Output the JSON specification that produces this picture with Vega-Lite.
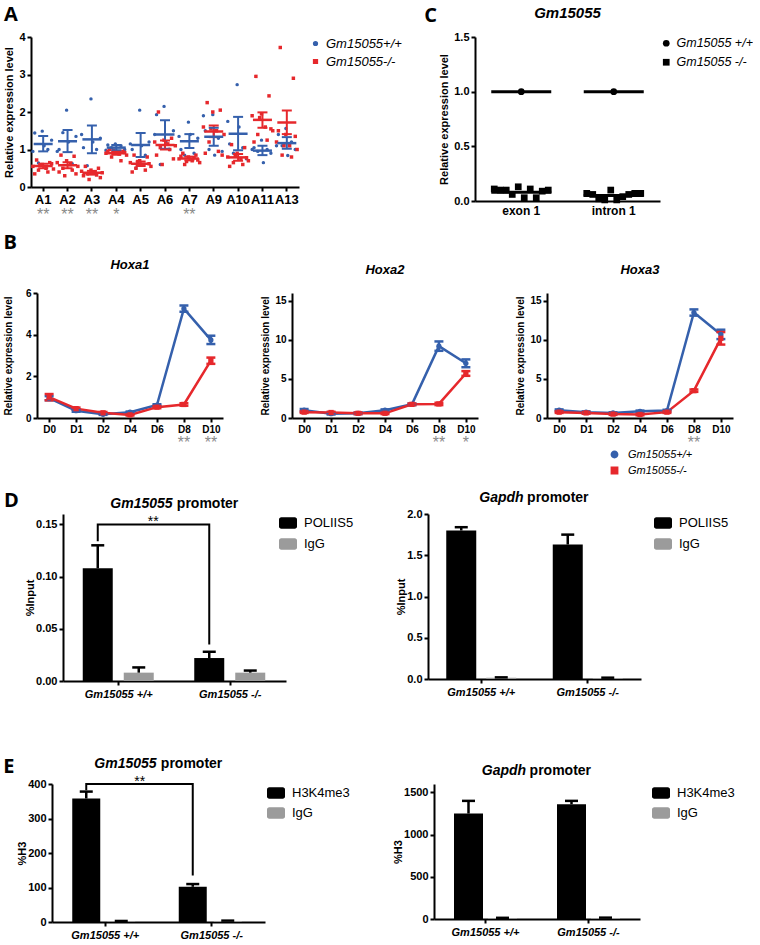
{
"$schema": "https://vega.github.io/schema/vega-lite/v6.json",
"padding": {"left": 2, "top": 5, "right": 0, "bottom": 0},
"background": "white",
"config": {
  "font": "Liberation Sans",
  "view": {"stroke": null},
  "axis": {"domainColor": "black", "domainWidth": 2, "tickColor": "black", "tickWidth": 2, "tickSize": 4, "labelColor": "black", "labelFont": "Liberation Sans", "labelFontWeight": "bold", "labelFontSize": 11, "titleFont": "Liberation Sans", "titleFontWeight": "bold", "titleFontSize": 11, "titleColor": "black", "grid": false, "labelPadding": 2, "titlePadding": 4, "labelOverlap": false},
  "legend": {"labelFont": "Liberation Sans", "labelColor": "black"},
  "title": {"font": "Liberation Sans", "fontWeight": "bold", "color": "black", "subtitleColor": "black"},
  "text": {"font": "Liberation Sans"}
},
"datasets": {
  "aPts": [
    {"gene":"A1","g":"W","v":1.49,"r":6},{"gene":"A1","g":"W","v":1.44,"r":2},{"gene":"A1","g":"W","v":1.0,"r":9},{"gene":"A1","g":"W","v":0.64,"r":4},{"gene":"A1","g":"W","v":1.25,"r":11},{"gene":"A1","g":"W","v":1.1,"r":7},{"gene":"A1","g":"W","v":0.95,"r":1},
    {"gene":"A1","g":"K","v":0.72,"r":3},{"gene":"A1","g":"K","v":0.65,"r":10},{"gene":"A1","g":"K","v":0.6,"r":6},{"gene":"A1","g":"K","v":0.55,"r":1},{"gene":"A1","g":"K","v":0.5,"r":8},{"gene":"A1","g":"K","v":0.48,"r":12},{"gene":"A1","g":"K","v":0.45,"r":4},{"gene":"A1","g":"K","v":0.4,"r":9},{"gene":"A1","g":"K","v":0.35,"r":2},{"gene":"A1","g":"K","v":0.62,"r":11},{"gene":"A1","g":"K","v":0.58,"r":5},
    {"gene":"A2","g":"W","v":2.05,"r":6},{"gene":"A2","g":"W","v":1.0,"r":2},{"gene":"A2","g":"W","v":0.62,"r":9},{"gene":"A2","g":"W","v":1.45,"r":4},{"gene":"A2","g":"W","v":1.35,"r":11},{"gene":"A2","g":"W","v":1.2,"r":7},{"gene":"A2","g":"W","v":0.95,"r":1},
    {"gene":"A2","g":"K","v":0.85,"r":3},{"gene":"A2","g":"K","v":0.82,"r":10},{"gene":"A2","g":"K","v":0.7,"r":6},{"gene":"A2","g":"K","v":0.65,"r":1},{"gene":"A2","g":"K","v":0.6,"r":8},{"gene":"A2","g":"K","v":0.55,"r":12},{"gene":"A2","g":"K","v":0.5,"r":4},{"gene":"A2","g":"K","v":0.45,"r":9},{"gene":"A2","g":"K","v":0.4,"r":2},{"gene":"A2","g":"K","v":0.35,"r":11},{"gene":"A2","g":"K","v":0.3,"r":5},
    {"gene":"A3","g":"W","v":2.35,"r":6},{"gene":"A3","g":"W","v":1.05,"r":2},{"gene":"A3","g":"W","v":1.0,"r":9},{"gene":"A3","g":"W","v":0.57,"r":4},{"gene":"A3","g":"W","v":1.3,"r":11},{"gene":"A3","g":"W","v":1.2,"r":7},{"gene":"A3","g":"W","v":1.4,"r":1},
    {"gene":"A3","g":"K","v":0.55,"r":3},{"gene":"A3","g":"K","v":0.5,"r":10},{"gene":"A3","g":"K","v":0.45,"r":6},{"gene":"A3","g":"K","v":0.42,"r":1},{"gene":"A3","g":"K","v":0.4,"r":8},{"gene":"A3","g":"K","v":0.38,"r":12},{"gene":"A3","g":"K","v":0.35,"r":4},{"gene":"A3","g":"K","v":0.32,"r":9},{"gene":"A3","g":"K","v":0.3,"r":2},{"gene":"A3","g":"K","v":0.25,"r":11},{"gene":"A3","g":"K","v":0.2,"r":5},
    {"gene":"A4","g":"W","v":1.15,"r":6},{"gene":"A4","g":"W","v":1.12,"r":2},{"gene":"A4","g":"W","v":1.1,"r":9},{"gene":"A4","g":"W","v":1.05,"r":4},{"gene":"A4","g":"W","v":1.0,"r":11},{"gene":"A4","g":"W","v":0.95,"r":7},{"gene":"A4","g":"W","v":0.98,"r":1},
    {"gene":"A4","g":"K","v":1.0,"r":3},{"gene":"A4","g":"K","v":0.95,"r":10},{"gene":"A4","g":"K","v":0.92,"r":6},{"gene":"A4","g":"K","v":0.9,"r":1},{"gene":"A4","g":"K","v":0.88,"r":8},{"gene":"A4","g":"K","v":0.85,"r":12},{"gene":"A4","g":"K","v":0.8,"r":4},{"gene":"A4","g":"K","v":0.7,"r":9},{"gene":"A4","g":"K","v":0.95,"r":2},{"gene":"A4","g":"K","v":0.92,"r":11},{"gene":"A4","g":"K","v":0.98,"r":5},
    {"gene":"A5","g":"W","v":2.05,"r":6},{"gene":"A5","g":"W","v":1.0,"r":2},{"gene":"A5","g":"W","v":0.85,"r":9},{"gene":"A5","g":"W","v":0.5,"r":4},{"gene":"A5","g":"W","v":1.2,"r":11},{"gene":"A5","g":"W","v":1.1,"r":7},{"gene":"A5","g":"W","v":1.15,"r":1},
    {"gene":"A5","g":"K","v":0.85,"r":3},{"gene":"A5","g":"K","v":0.8,"r":10},{"gene":"A5","g":"K","v":0.7,"r":6},{"gene":"A5","g":"K","v":0.65,"r":1},{"gene":"A5","g":"K","v":0.6,"r":8},{"gene":"A5","g":"K","v":0.55,"r":12},{"gene":"A5","g":"K","v":0.5,"r":4},{"gene":"A5","g":"K","v":0.45,"r":9},{"gene":"A5","g":"K","v":0.4,"r":2},{"gene":"A5","g":"K","v":0.62,"r":11},{"gene":"A5","g":"K","v":0.68,"r":5},
    {"gene":"A6","g":"W","v":2.15,"r":6},{"gene":"A6","g":"W","v":1.93,"r":2},{"gene":"A6","g":"W","v":1.0,"r":9},{"gene":"A6","g":"W","v":0.6,"r":4},{"gene":"A6","g":"W","v":1.5,"r":11},{"gene":"A6","g":"W","v":1.2,"r":7},{"gene":"A6","g":"W","v":1.4,"r":1},
    {"gene":"A6","g":"K","v":2.0,"r":3},{"gene":"A6","g":"K","v":1.3,"r":10},{"gene":"A6","g":"K","v":1.25,"r":6},{"gene":"A6","g":"K","v":1.2,"r":1},{"gene":"A6","g":"K","v":1.15,"r":8},{"gene":"A6","g":"K","v":1.1,"r":12},{"gene":"A6","g":"K","v":1.05,"r":4},{"gene":"A6","g":"K","v":1.0,"r":9},{"gene":"A6","g":"K","v":0.85,"r":2},{"gene":"A6","g":"K","v":0.75,"r":11},{"gene":"A6","g":"K","v":0.6,"r":5},
    {"gene":"A7","g":"W","v":1.73,"r":6},{"gene":"A7","g":"W","v":1.0,"r":2},{"gene":"A7","g":"W","v":0.9,"r":9},{"gene":"A7","g":"W","v":0.85,"r":4},{"gene":"A7","g":"W","v":1.3,"r":11},{"gene":"A7","g":"W","v":1.4,"r":7},{"gene":"A7","g":"W","v":1.35,"r":1},
    {"gene":"A7","g":"K","v":0.9,"r":3},{"gene":"A7","g":"K","v":0.85,"r":10},{"gene":"A7","g":"K","v":0.8,"r":6},{"gene":"A7","g":"K","v":0.75,"r":1},{"gene":"A7","g":"K","v":0.7,"r":8},{"gene":"A7","g":"K","v":0.65,"r":12},{"gene":"A7","g":"K","v":0.6,"r":4},{"gene":"A7","g":"K","v":0.78,"r":9},{"gene":"A7","g":"K","v":0.82,"r":2},{"gene":"A7","g":"K","v":0.72,"r":11},{"gene":"A7","g":"K","v":0.68,"r":5},
    {"gene":"A9","g":"W","v":1.93,"r":6},{"gene":"A9","g":"W","v":1.5,"r":2},{"gene":"A9","g":"W","v":1.3,"r":9},{"gene":"A9","g":"W","v":1.0,"r":4},{"gene":"A9","g":"W","v":0.95,"r":11},{"gene":"A9","g":"W","v":0.85,"r":7},{"gene":"A9","g":"W","v":1.9,"r":1},
    {"gene":"A9","g":"K","v":2.25,"r":3},{"gene":"A9","g":"K","v":2.05,"r":10},{"gene":"A9","g":"K","v":2.0,"r":6},{"gene":"A9","g":"K","v":1.6,"r":1},{"gene":"A9","g":"K","v":1.5,"r":8},{"gene":"A9","g":"K","v":1.4,"r":12},{"gene":"A9","g":"K","v":1.2,"r":4},{"gene":"A9","g":"K","v":0.95,"r":9},{"gene":"A9","g":"K","v":0.9,"r":2},{"gene":"A9","g":"K","v":0.85,"r":11},{"gene":"A9","g":"K","v":1.55,"r":5},
    {"gene":"A10","g":"W","v":2.73,"r":6},{"gene":"A10","g":"W","v":1.15,"r":2},{"gene":"A10","g":"W","v":1.05,"r":9},{"gene":"A10","g":"W","v":0.9,"r":4},{"gene":"A10","g":"W","v":0.75,"r":11},{"gene":"A10","g":"W","v":1.6,"r":7},{"gene":"A10","g":"W","v":1.75,"r":1},
    {"gene":"A10","g":"K","v":1.13,"r":3},{"gene":"A10","g":"K","v":1.05,"r":10},{"gene":"A10","g":"K","v":0.9,"r":6},{"gene":"A10","g":"K","v":0.8,"r":1},{"gene":"A10","g":"K","v":0.75,"r":8},{"gene":"A10","g":"K","v":0.7,"r":12},{"gene":"A10","g":"K","v":0.65,"r":4},{"gene":"A10","g":"K","v":0.6,"r":9},{"gene":"A10","g":"K","v":0.55,"r":2},{"gene":"A10","g":"K","v":0.78,"r":11},{"gene":"A10","g":"K","v":0.82,"r":5},
    {"gene":"A11","g":"W","v":1.25,"r":6},{"gene":"A11","g":"W","v":1.05,"r":2},{"gene":"A11","g":"W","v":1.0,"r":9},{"gene":"A11","g":"W","v":0.95,"r":4},{"gene":"A11","g":"W","v":0.9,"r":11},{"gene":"A11","g":"W","v":0.65,"r":7},{"gene":"A11","g":"W","v":1.0,"r":1},
    {"gene":"A11","g":"K","v":2.95,"r":3},{"gene":"A11","g":"K","v":2.43,"r":10},{"gene":"A11","g":"K","v":1.95,"r":6},{"gene":"A11","g":"K","v":1.9,"r":1},{"gene":"A11","g":"K","v":1.6,"r":8},{"gene":"A11","g":"K","v":1.5,"r":12},{"gene":"A11","g":"K","v":1.4,"r":4},{"gene":"A11","g":"K","v":1.25,"r":9},{"gene":"A11","g":"K","v":1.2,"r":2},{"gene":"A11","g":"K","v":1.55,"r":11},{"gene":"A11","g":"K","v":1.85,"r":5},
    {"gene":"A13","g":"W","v":1.56,"r":6},{"gene":"A13","g":"W","v":1.4,"r":2},{"gene":"A13","g":"W","v":1.2,"r":9},{"gene":"A13","g":"W","v":1.1,"r":4},{"gene":"A13","g":"W","v":1.0,"r":11},{"gene":"A13","g":"W","v":0.84,"r":7},{"gene":"A13","g":"W","v":1.1,"r":1},
    {"gene":"A13","g":"K","v":3.72,"r":3},{"gene":"A13","g":"K","v":2.9,"r":10},{"gene":"A13","g":"K","v":1.4,"r":6},{"gene":"A13","g":"K","v":1.2,"r":1},{"gene":"A13","g":"K","v":1.1,"r":8},{"gene":"A13","g":"K","v":1.0,"r":12},{"gene":"A13","g":"K","v":0.85,"r":4},{"gene":"A13","g":"K","v":0.8,"r":9},{"gene":"A13","g":"K","v":1.5,"r":2},{"gene":"A13","g":"K","v":1.35,"r":11},{"gene":"A13","g":"K","v":1.1,"r":5}
  ],
  "aSum": [
    {"gene":"A1","g":"W","m":1.15,"lo":0.95,"hi":1.36},{"gene":"A2","g":"W","m":1.22,"lo":0.93,"hi":1.52},{"gene":"A3","g":"W","m":1.27,"lo":0.9,"hi":1.64},{"gene":"A4","g":"W","m":1.05,"lo":0.98,"hi":1.12},{"gene":"A5","g":"W","m":1.12,"lo":0.8,"hi":1.44},{"gene":"A6","g":"W","m":1.4,"lo":1.02,"hi":1.78},{"gene":"A7","g":"W","m":1.22,"lo":1.04,"hi":1.41},{"gene":"A9","g":"W","m":1.34,"lo":1.1,"hi":1.58},{"gene":"A10","g":"W","m":1.42,"lo":0.98,"hi":1.87},{"gene":"A11","g":"W","m":0.97,"lo":0.85,"hi":1.1},{"gene":"A13","g":"W","m":1.17,"lo":1.02,"hi":1.33},
    {"gene":"A1","g":"K","m":0.56,"lo":0.5,"hi":0.62},{"gene":"A2","g":"K","m":0.58,"lo":0.5,"hi":0.66},{"gene":"A3","g":"K","m":0.38,"lo":0.33,"hi":0.43},{"gene":"A4","g":"K","m":0.9,"lo":0.86,"hi":0.94},{"gene":"A5","g":"K","m":0.62,"lo":0.56,"hi":0.68},{"gene":"A6","g":"K","m":1.12,"lo":1.0,"hi":1.24},{"gene":"A7","g":"K","m":0.76,"lo":0.71,"hi":0.81},{"gene":"A9","g":"K","m":1.48,"lo":1.33,"hi":1.64},{"gene":"A10","g":"K","m":0.79,"lo":0.7,"hi":0.88},{"gene":"A11","g":"K","m":1.79,"lo":1.58,"hi":1.99},{"gene":"A13","g":"K","m":1.72,"lo":1.41,"hi":2.04}
  ],
  "aStars": [
    {"gene":"A1","s":"**"},{"gene":"A2","s":"**"},{"gene":"A3","s":"**"},{"gene":"A4","s":"*"},{"gene":"A7","s":"**"}
  ],
  "cPts": [
    {"region":"exon 1","g":"W","v":1.0,"r":5},{"region":"intron 1","g":"W","v":1.0,"r":5},
    {"region":"exon 1","g":"K","v":0.11,"r":1},{"region":"exon 1","g":"K","v":0.10,"r":2},{"region":"exon 1","g":"K","v":0.10,"r":3},{"region":"exon 1","g":"K","v":0.06,"r":4},{"region":"exon 1","g":"K","v":0.13,"r":5},{"region":"exon 1","g":"K","v":0.03,"r":6},{"region":"exon 1","g":"K","v":0.11,"r":7},{"region":"exon 1","g":"K","v":0.03,"r":8},{"region":"exon 1","g":"K","v":0.09,"r":9},{"region":"exon 1","g":"K","v":0.10,"r":10},
    {"region":"intron 1","g":"K","v":0.07,"r":1},{"region":"intron 1","g":"K","v":0.06,"r":2},{"region":"intron 1","g":"K","v":0.02,"r":3},{"region":"intron 1","g":"K","v":0.01,"r":4},{"region":"intron 1","g":"K","v":0.10,"r":5},{"region":"intron 1","g":"K","v":0.01,"r":6},{"region":"intron 1","g":"K","v":0.04,"r":7},{"region":"intron 1","g":"K","v":0.06,"r":8},{"region":"intron 1","g":"K","v":0.07,"r":9},{"region":"intron 1","g":"K","v":0.07,"r":10}
  ],
  "cSum": [
    {"region":"exon 1","g":"W","v":1.0},{"region":"intron 1","g":"W","v":1.0},{"region":"exon 1","g":"K","v":0.08},{"region":"intron 1","g":"K","v":0.05}
  ],
  "hox": [
    {"gene":"Hoxa1","g":"W","day":"D0","v":0.95,"lo":0.85,"hi":1.05},{"gene":"Hoxa1","g":"W","day":"D1","v":0.35,"lo":0.3,"hi":0.4},{"gene":"Hoxa1","g":"W","day":"D2","v":0.18,"lo":0.15,"hi":0.21},{"gene":"Hoxa1","g":"W","day":"D4","v":0.28,"lo":0.25,"hi":0.31},{"gene":"Hoxa1","g":"W","day":"D6","v":0.62,"lo":0.58,"hi":0.66},{"gene":"Hoxa1","g":"W","day":"D8","v":5.25,"lo":5.1,"hi":5.4},{"gene":"Hoxa1","g":"W","day":"D10","v":3.75,"lo":3.55,"hi":3.95},
    {"gene":"Hoxa1","g":"K","day":"D0","v":1.0,"lo":0.85,"hi":1.15},{"gene":"Hoxa1","g":"K","day":"D1","v":0.45,"lo":0.4,"hi":0.5},{"gene":"Hoxa1","g":"K","day":"D2","v":0.25,"lo":0.21,"hi":0.29},{"gene":"Hoxa1","g":"K","day":"D4","v":0.15,"lo":0.12,"hi":0.18},{"gene":"Hoxa1","g":"K","day":"D6","v":0.52,"lo":0.47,"hi":0.57},{"gene":"Hoxa1","g":"K","day":"D8","v":0.65,"lo":0.59,"hi":0.71},{"gene":"Hoxa1","g":"K","day":"D10","v":2.75,"lo":2.6,"hi":2.9},
    {"gene":"Hoxa2","g":"W","day":"D0","v":1.0,"lo":0.85,"hi":1.15},{"gene":"Hoxa2","g":"W","day":"D1","v":0.55,"lo":0.45,"hi":0.65},{"gene":"Hoxa2","g":"W","day":"D2","v":0.6,"lo":0.5,"hi":0.7},{"gene":"Hoxa2","g":"W","day":"D4","v":1.0,"lo":0.9,"hi":1.1},{"gene":"Hoxa2","g":"W","day":"D6","v":1.75,"lo":1.65,"hi":1.85},{"gene":"Hoxa2","g":"W","day":"D8","v":9.2,"lo":8.6,"hi":9.8},{"gene":"Hoxa2","g":"W","day":"D10","v":7.0,"lo":6.5,"hi":7.5},
    {"gene":"Hoxa2","g":"K","day":"D0","v":0.75,"lo":0.65,"hi":0.85},{"gene":"Hoxa2","g":"K","day":"D1","v":0.7,"lo":0.6,"hi":0.8},{"gene":"Hoxa2","g":"K","day":"D2","v":0.6,"lo":0.5,"hi":0.7},{"gene":"Hoxa2","g":"K","day":"D4","v":0.6,"lo":0.5,"hi":0.7},{"gene":"Hoxa2","g":"K","day":"D6","v":1.75,"lo":1.65,"hi":1.85},{"gene":"Hoxa2","g":"K","day":"D8","v":1.8,"lo":1.65,"hi":1.95},{"gene":"Hoxa2","g":"K","day":"D10","v":5.7,"lo":5.4,"hi":6.0},
    {"gene":"Hoxa3","g":"W","day":"D0","v":1.0,"lo":0.9,"hi":1.1},{"gene":"Hoxa3","g":"W","day":"D1","v":0.75,"lo":0.65,"hi":0.85},{"gene":"Hoxa3","g":"W","day":"D2","v":0.65,"lo":0.57,"hi":0.73},{"gene":"Hoxa3","g":"W","day":"D4","v":0.85,"lo":0.75,"hi":0.95},{"gene":"Hoxa3","g":"W","day":"D6","v":0.95,"lo":0.85,"hi":1.05},{"gene":"Hoxa3","g":"W","day":"D8","v":13.5,"lo":13.1,"hi":13.9},{"gene":"Hoxa3","g":"W","day":"D10","v":10.7,"lo":10.1,"hi":11.3},
    {"gene":"Hoxa3","g":"K","day":"D0","v":0.75,"lo":0.65,"hi":0.85},{"gene":"Hoxa3","g":"K","day":"D1","v":0.65,"lo":0.55,"hi":0.75},{"gene":"Hoxa3","g":"K","day":"D2","v":0.5,"lo":0.4,"hi":0.6},{"gene":"Hoxa3","g":"K","day":"D4","v":0.45,"lo":0.35,"hi":0.55},{"gene":"Hoxa3","g":"K","day":"D6","v":0.75,"lo":0.65,"hi":0.85},{"gene":"Hoxa3","g":"K","day":"D8","v":3.5,"lo":3.35,"hi":3.65},{"gene":"Hoxa3","g":"K","day":"D10","v":10.2,"lo":9.4,"hi":11.0}
  ],
  "hoxStars": [
    {"gene":"Hoxa1","day":"D8","s":"**"},{"gene":"Hoxa1","day":"D10","s":"**"},{"gene":"Hoxa2","day":"D8","s":"**"},{"gene":"Hoxa2","day":"D10","s":"*"},{"gene":"Hoxa3","day":"D8","s":"**"}
  ],
  "dL": [
    {"grp":"Gm15055 +/+","ab":"POLIIS5","v":0.108,"hi":0.130},{"grp":"Gm15055 +/+","ab":"IgG","v":0.008,"hi":0.013},{"grp":"Gm15055 -/-","ab":"POLIIS5","v":0.022,"hi":0.028},{"grp":"Gm15055 -/-","ab":"IgG","v":0.008,"hi":0.010}
  ],
  "dR": [
    {"grp":"Gm15055 +/+","ab":"POLIIS5","v":1.80,"hi":1.84},{"grp":"Gm15055 +/+","ab":"IgG","v":0.015,"hi":0.02},{"grp":"Gm15055 -/-","ab":"POLIIS5","v":1.63,"hi":1.75},{"grp":"Gm15055 -/-","ab":"IgG","v":0.012,"hi":0.016}
  ],
  "eL": [
    {"grp":"Gm15055 +/+","ab":"H3K4me3","v":358,"hi":378},{"grp":"Gm15055 +/+","ab":"IgG","v":2,"hi":3},{"grp":"Gm15055 -/-","ab":"H3K4me3","v":102,"hi":110},{"grp":"Gm15055 -/-","ab":"IgG","v":3,"hi":4}
  ],
  "eR": [
    {"grp":"Gm15055 +/+","ab":"H3K4me3","v":1250,"hi":1400},{"grp":"Gm15055 +/+","ab":"IgG","v":10,"hi":14},{"grp":"Gm15055 -/-","ab":"H3K4me3","v":1360,"hi":1400},{"grp":"Gm15055 -/-","ab":"IgG","v":12,"hi":16}
  ],
  "brD": [
    {"grp":"Gm15055 +/+","y":0.134,"o":1},{"grp":"Gm15055 +/+","y":0.15,"o":2},{"grp":"Gm15055 -/-","y":0.15,"o":3},{"grp":"Gm15055 -/-","y":0.035,"o":4}
  ],
  "brE": [
    {"grp":"Gm15055 +/+","y":382,"o":1},{"grp":"Gm15055 +/+","y":400,"o":2},{"grp":"Gm15055 -/-","y":400,"o":3},{"grp":"Gm15055 -/-","y":135,"o":4}
  ],
  "starD": [{"grp":"Gm15055 -/-","s":"**"}],
  "starE": [{"grp":"Gm15055 -/-","s":"**"}]
},
"resolve": {"scale": {"color": "independent", "shape": "independent"}},
"spacing": 14,
"vconcat": [
 {
  "spacing": 10,
  "resolve": {"scale": {"color": "independent", "shape": "independent"}},
  "vconcat": [
   {
    "spacing": 0,
    "resolve": {"scale": {"color": "independent", "shape": "independent"}},
    "hconcat": [
     {"data": {"values": []}, "mark": "point", "encoding": {}, "width": 1, "height": 1},
     {
      "spacing": 22,
      "resolve": {"scale": {"color": "independent", "shape": "independent"}},
      "hconcat": [
       {
        "title": {"text": "A", "anchor": "start", "frame": "bounds", "font": "Open Sans", "fontSize": 20, "fontWeight": "bold", "offset": 6},
        "width": 268, "height": 150,
        "layer": [
         {"data": {"name": "aPts"}, "mark": {"type": "point", "filled": true, "size": 12, "opacity": 1},
          "encoding": {
           "x": {"field": "gene", "type": "nominal", "title": null, "sort": ["A1","A2","A3","A4","A5","A6","A7","A9","A10","A11","A13"], "scale": {"type": "band", "paddingInner": 0, "paddingOuter": 0}, "axis": {"labelAngle": 0, "labelFontSize": 13}},
           "xOffset": {"field": "r", "type": "nominal", "scale": {"domain": [1,2,3,4,5,6,7,8,9,10,11,12], "range": [0, 24.36], "paddingInner": 0, "paddingOuter": 2.4}},
           "y": {"field": "v", "type": "quantitative", "title": "Relative expression level", "scale": {"domain": [0, 4]}, "axis": {"values": [0, 1, 2, 3, 4]}},
           "color": {"field": "g", "type": "nominal", "scale": {"domain": ["W", "K"], "range": ["#3560AC", "#E6282C"]}, "legend": {"title": null, "offset": 10, "labelExpr": "datum.label == 'W' ? 'Gm15055+/+' : 'Gm15055-/-'", "labelFontStyle": "italic", "labelFontSize": 13, "symbolSize": 14, "rowPadding": 4}},
           "shape": {"field": "g", "type": "nominal", "scale": {"domain": ["W", "K"], "range": ["circle", "square"]}, "legend": {"title": null, "offset": 10, "labelExpr": "datum.label == 'W' ? 'Gm15055+/+' : 'Gm15055-/-'", "labelFontStyle": "italic", "labelFontSize": 13, "symbolSize": 14, "rowPadding": 4}}
          }},
         {"data": {"name": "aSum"}, "mark": {"type": "rule", "strokeWidth": 2},
          "encoding": {
           "x": {"field": "gene", "type": "nominal", "title": null, "sort": ["A1","A2","A3","A4","A5","A6","A7","A9","A10","A11","A13"]},
           "y": {"field": "lo", "type": "quantitative", "title": "Relative expression level", "axis": {"values": [0, 1, 2, 3, 4]}}, "y2": {"field": "hi"},
           "color": {"field": "g", "type": "nominal", "legend": null}
          }},
         {"data": {"name": "aSum"}, "mark": {"type": "tick", "size": 10, "thickness": 2, "opacity": 1},
          "encoding": {
           "x": {"field": "gene", "type": "nominal", "title": null, "sort": ["A1","A2","A3","A4","A5","A6","A7","A9","A10","A11","A13"]},
           "y": {"field": "lo", "type": "quantitative", "title": "Relative expression level", "axis": {"values": [0, 1, 2, 3, 4]}},
           "color": {"field": "g", "type": "nominal", "legend": null}
          }},
         {"data": {"name": "aSum"}, "mark": {"type": "tick", "size": 10, "thickness": 2, "opacity": 1},
          "encoding": {
           "x": {"field": "gene", "type": "nominal", "title": null, "sort": ["A1","A2","A3","A4","A5","A6","A7","A9","A10","A11","A13"]},
           "y": {"field": "hi", "type": "quantitative", "title": "Relative expression level", "axis": {"values": [0, 1, 2, 3, 4]}},
           "color": {"field": "g", "type": "nominal", "legend": null}
          }},
         {"data": {"name": "aSum"}, "mark": {"type": "tick", "size": 19, "thickness": 2.5, "opacity": 1},
          "encoding": {
           "x": {"field": "gene", "type": "nominal", "title": null, "sort": ["A1","A2","A3","A4","A5","A6","A7","A9","A10","A11","A13"]},
           "y": {"field": "m", "type": "quantitative", "title": "Relative expression level", "axis": {"values": [0, 1, 2, 3, 4]}},
           "color": {"field": "g", "type": "nominal", "legend": null}
          }},
         {"data": {"name": "aStars"}, "mark": {"type": "text", "baseline": "top", "dy": 20, "fontSize": 16, "color": "#8a8a8a"},
          "encoding": {
           "x": {"field": "gene", "type": "nominal", "title": null, "sort": ["A1","A2","A3","A4","A5","A6","A7","A9","A10","A11","A13"]},
           "y": {"datum": 0, "axis": {"values": [0, 1, 2, 3, 4]}},
           "text": {"field": "s"}
          }}
        ]
       },
       {
        "title": {"text": "C", "orient": "left", "angle": 0, "anchor": "end", "align": "right", "baseline": "top", "font": "Open Sans", "fontSize": 20, "fontWeight": "bold", "offset": -11},
        "resolve": {"scale": {"color": "independent", "shape": "independent"}},
        "hconcat": [
         {
          "title": {"text": "Gm15055", "fontStyle": "italic", "fontSize": 15, "offset": 10, "anchor": "middle", "frame": "group"},
          "width": 185, "height": 164,
          "data": {"name": "cPts"},
          "encoding": {
           "x": {"field": "region", "type": "nominal", "title": null, "sort": ["exon 1", "intron 1"], "scale": {"type": "band", "paddingInner": 0, "paddingOuter": 0}, "axis": {"labelAngle": 0, "labelFontSize": 12, "ticks": false, "labelPadding": 4}},
           "y": {"field": "v", "type": "quantitative", "title": "Relative expression level", "scale": {"domain": [0, 1.5]}, "axis": {"values": [0, 0.5, 1, 1.5], "format": ".1f"}},
           "shape": {"field": "g", "type": "nominal", "scale": {"domain": ["W", "K"], "range": ["circle", "square"]}, "legend": {"title": null, "offset": 0, "labelExpr": "datum.label == 'W' ? 'Gm15055 +/+' : 'Gm15055 -/-'", "labelFontStyle": "italic", "labelFontSize": 12.5, "symbolSize": 45, "symbolFillColor": "black", "symbolStrokeColor": "black", "rowPadding": 5}}
          },
          "layer": [
           {"transform": [{"filter": "datum.g == 'W'"}], "mark": {"type": "point", "filled": true, "size": 45, "color": "black", "opacity": 1}},
           {"transform": [{"filter": "datum.g == 'K' && datum.r == 1"}], "mark": {"type": "point", "filled": true, "size": 45, "color": "black", "opacity": 1, "xOffset": -27}},
           {"transform": [{"filter": "datum.g == 'K' && datum.r == 2"}], "mark": {"type": "point", "filled": true, "size": 45, "color": "black", "opacity": 1, "xOffset": -21}},
           {"transform": [{"filter": "datum.g == 'K' && datum.r == 3"}], "mark": {"type": "point", "filled": true, "size": 45, "color": "black", "opacity": 1, "xOffset": -15}},
           {"transform": [{"filter": "datum.g == 'K' && datum.r == 4"}], "mark": {"type": "point", "filled": true, "size": 45, "color": "black", "opacity": 1, "xOffset": -9}},
           {"transform": [{"filter": "datum.g == 'K' && datum.r == 5"}], "mark": {"type": "point", "filled": true, "size": 45, "color": "black", "opacity": 1, "xOffset": -3}},
           {"transform": [{"filter": "datum.g == 'K' && datum.r == 6"}], "mark": {"type": "point", "filled": true, "size": 45, "color": "black", "opacity": 1, "xOffset": 3}},
           {"transform": [{"filter": "datum.g == 'K' && datum.r == 7"}], "mark": {"type": "point", "filled": true, "size": 45, "color": "black", "opacity": 1, "xOffset": 9}},
           {"transform": [{"filter": "datum.g == 'K' && datum.r == 8"}], "mark": {"type": "point", "filled": true, "size": 45, "color": "black", "opacity": 1, "xOffset": 15}},
           {"transform": [{"filter": "datum.g == 'K' && datum.r == 9"}], "mark": {"type": "point", "filled": true, "size": 45, "color": "black", "opacity": 1, "xOffset": 21}},
           {"transform": [{"filter": "datum.g == 'K' && datum.r == 10"}], "mark": {"type": "point", "filled": true, "size": 45, "color": "black", "opacity": 1, "xOffset": 27}},
           {"data": {"name": "cSum"}, "mark": {"type": "tick", "size": 60, "thickness": 3, "color": "black", "opacity": 1},
            "encoding": {"shape": {"value": "square"}}}
          ]
         }
        ]
       }
      ]
     }
    ]
   },
   {
    "spacing": 0,
    "resolve": {"scale": {"color": "independent", "shape": "independent"}},
    "hconcat": [
     {"data": {"values": []}, "mark": "point", "encoding": {}, "width": 1, "height": 1},
     {
      "title": {"text": "B", "anchor": "start", "frame": "bounds", "font": "Open Sans", "fontSize": 20, "fontWeight": "bold", "offset": 6},
      "spacing": 37,
      "resolve": {"scale": {"color": "independent", "shape": "independent"}},
      "hconcat": [
       {
        "title": {"text": "Hoxa1", "fontStyle": "italic", "fontSize": 13, "offset": 16, "anchor": "middle", "frame": "group"},
        "width": 186, "height": 125,
        "data": {"name": "hox"},
        "transform": [{"filter": "datum.gene == 'Hoxa1'"}],
        "encoding": {
         "x": {"field": "day", "type": "ordinal", "title": null, "sort": ["D0","D1","D2","D4","D6","D8","D10"], "scale": {"type": "point", "padding": 0.45}, "axis": {"labelAngle": 0, "labelFontSize": 10}},
         "color": {"field": "g", "type": "nominal", "scale": {"domain": ["W", "K"], "range": ["#3560AC", "#E6282C"]}, "legend": null}
        },
        "layer": [
         {"mark": {"type": "line", "strokeWidth": 2.5}, "encoding": {"y": {"field": "v", "type": "quantitative", "title": "Relative expression level", "scale": {"domain": [0, 6]}, "axis": {"values": [0, 2, 4, 6], "labelFontSize": 10, "titleFontSize": 10, "titlePadding": 12}}}},
         {"mark": {"type": "rule", "strokeWidth": 2.5}, "encoding": {"y": {"field": "lo", "type": "quantitative", "title": "Relative expression level"}, "y2": {"field": "hi"}}},
         {"mark": {"type": "tick", "size": 9, "thickness": 2.5, "opacity": 1}, "encoding": {"y": {"field": "lo", "type": "quantitative", "title": "Relative expression level"}}},
         {"mark": {"type": "tick", "size": 9, "thickness": 2.5, "opacity": 1}, "encoding": {"y": {"field": "hi", "type": "quantitative", "title": "Relative expression level"}}},
         {"mark": {"type": "point", "filled": true, "size": 28, "opacity": 1}, "encoding": {"y": {"field": "v", "type": "quantitative", "title": "Relative expression level"}, "shape": {"field": "g", "type": "nominal", "scale": {"domain": ["W", "K"], "range": ["circle", "square"]}, "legend": null}}},
         {"data": {"name": "hoxStars"}, "transform": [{"filter": "datum.gene == 'Hoxa1'"}], "mark": {"type": "text", "baseline": "top", "dy": 17, "fontSize": 16}, "encoding": {"y": {"datum": 0}, "text": {"field": "s"}, "color": {"value": "#8a8a8a"}}}
        ]
       },
       {
        "title": {"text": "Hoxa2", "fontStyle": "italic", "fontSize": 13, "offset": 16, "anchor": "middle", "frame": "group"},
        "width": 186, "height": 125,
        "data": {"name": "hox"},
        "transform": [{"filter": "datum.gene == 'Hoxa2'"}],
        "encoding": {
         "x": {"field": "day", "type": "ordinal", "title": null, "sort": ["D0","D1","D2","D4","D6","D8","D10"], "scale": {"type": "point", "padding": 0.45}, "axis": {"labelAngle": 0, "labelFontSize": 10}},
         "color": {"field": "g", "type": "nominal", "scale": {"domain": ["W", "K"], "range": ["#3560AC", "#E6282C"]}, "legend": null}
        },
        "layer": [
         {"mark": {"type": "line", "strokeWidth": 2.5}, "encoding": {"y": {"field": "v", "type": "quantitative", "title": "Relative expression level", "scale": {"domain": [0, 15]}, "axis": {"values": [0, 5, 10, 15], "labelFontSize": 10, "titleFontSize": 10}}}},
         {"mark": {"type": "rule", "strokeWidth": 2.5}, "encoding": {"y": {"field": "lo", "type": "quantitative", "title": "Relative expression level"}, "y2": {"field": "hi"}}},
         {"mark": {"type": "tick", "size": 9, "thickness": 2.5, "opacity": 1}, "encoding": {"y": {"field": "lo", "type": "quantitative", "title": "Relative expression level"}}},
         {"mark": {"type": "tick", "size": 9, "thickness": 2.5, "opacity": 1}, "encoding": {"y": {"field": "hi", "type": "quantitative", "title": "Relative expression level"}}},
         {"mark": {"type": "point", "filled": true, "size": 28, "opacity": 1}, "encoding": {"y": {"field": "v", "type": "quantitative", "title": "Relative expression level"}, "shape": {"field": "g", "type": "nominal", "scale": {"domain": ["W", "K"], "range": ["circle", "square"]}, "legend": null}}},
         {"data": {"name": "hoxStars"}, "transform": [{"filter": "datum.gene == 'Hoxa2'"}], "mark": {"type": "text", "baseline": "top", "dy": 17, "fontSize": 16}, "encoding": {"y": {"datum": 0}, "text": {"field": "s"}, "color": {"value": "#8a8a8a"}}}
        ]
       },
       {
        "title": {"text": "Hoxa3", "fontStyle": "italic", "fontSize": 13, "offset": 16, "anchor": "middle", "frame": "group"},
        "width": 186, "height": 125,
        "data": {"name": "hox"},
        "transform": [{"filter": "datum.gene == 'Hoxa3'"}],
        "encoding": {
         "x": {"field": "day", "type": "ordinal", "title": null, "sort": ["D0","D1","D2","D4","D6","D8","D10"], "scale": {"type": "point", "padding": 0.45}, "axis": {"labelAngle": 0, "labelFontSize": 10}}
        },
        "layer": [
         {"mark": {"type": "line", "strokeWidth": 2.5}, "encoding": {"y": {"field": "v", "type": "quantitative", "title": "Relative expression level", "scale": {"domain": [0, 15]}, "axis": {"values": [0, 5, 10, 15], "labelFontSize": 10, "titleFontSize": 10}},
           "color": {"field": "g", "type": "nominal", "scale": {"domain": ["W", "K"], "range": ["#3560AC", "#E6282C"]},
            "legend": {"title": null, "orient": "none", "legendX": 62, "legendY": 156, "labelExpr": "datum.label == 'W' ? 'Gm15055+/+' : 'Gm15055-/-'", "labelFontStyle": "italic", "labelFontSize": 11, "symbolSize": 40, "rowPadding": 3, "labelOffset": 8}}}},
         {"mark": {"type": "rule", "strokeWidth": 2.5}, "encoding": {"y": {"field": "lo", "type": "quantitative", "title": "Relative expression level"}, "y2": {"field": "hi"}, "color": {"field": "g", "type": "nominal", "legend": null}}},
         {"mark": {"type": "tick", "size": 9, "thickness": 2.5, "opacity": 1}, "encoding": {"y": {"field": "lo", "type": "quantitative", "title": "Relative expression level"}, "color": {"field": "g", "type": "nominal", "legend": null}}},
         {"mark": {"type": "tick", "size": 9, "thickness": 2.5, "opacity": 1}, "encoding": {"y": {"field": "hi", "type": "quantitative", "title": "Relative expression level"}, "color": {"field": "g", "type": "nominal", "legend": null}}},
         {"mark": {"type": "point", "filled": true, "size": 28, "opacity": 1}, "encoding": {"y": {"field": "v", "type": "quantitative", "title": "Relative expression level"}, "color": {"field": "g", "type": "nominal", "legend": null}, "shape": {"field": "g", "type": "nominal", "scale": {"domain": ["W", "K"], "range": ["circle", "square"]}, "legend": null}}},
         {"data": {"name": "hoxStars"}, "transform": [{"filter": "datum.gene == 'Hoxa3'"}], "mark": {"type": "text", "baseline": "top", "dy": 17, "fontSize": 16}, "encoding": {"y": {"datum": 0}, "text": {"field": "s"}, "color": {"value": "#8a8a8a"}}}
        ]
       }
      ]
     }
    ]
   }
  ]
 },
 {
  "spacing": 58,
  "resolve": {"scale": {"color": "independent", "shape": "independent"}},
  "vconcat": [
   {
    "spacing": 0,
    "resolve": {"scale": {"color": "independent", "shape": "independent"}},
    "hconcat": [
     {"data": {"values": []}, "mark": "point", "encoding": {}, "width": 1, "height": 1},
     {
      "title": {"text": "D", "orient": "left", "angle": 0, "anchor": "end", "align": "right", "baseline": "top", "font": "Open Sans", "fontSize": 20, "fontWeight": "bold", "offset": -9},
      "spacing": 41,
      "resolve": {"scale": {"color": "independent", "shape": "independent"}},
      "hconcat": [
       {
        "title": {"text": "Gm15055\u00a0\u00a0\u00a0\u00a0\u00a0\u00a0\u00a0\u00a0\u00a0\u00a0\u00a0\u00a0\u00a0\u00a0\u00a0\u00a0\u00a0\u200b", "subtitle": "\u200b\u00a0\u00a0\u00a0\u00a0\u00a0\u00a0\u00a0\u00a0\u00a0\u00a0\u00a0\u00a0\u00a0\u00a0\u00a0\u00a0\u00a0promoter", "fontStyle": "italic", "fontSize": 14, "subtitleFont": "Liberation Sans", "subtitleFontSize": 14, "subtitleFontWeight": "bold", "subtitleFontStyle": "normal", "subtitlePadding": -14, "offset": 3, "anchor": "middle", "frame": "group"},
        "width": 223, "height": 167,
        "data": {"name": "dL"},
        "encoding": {
         "x": {"field": "grp", "type": "nominal", "title": null, "sort": ["Gm15055 +/+", "Gm15055 -/-"], "scale": {"type": "band", "paddingInner": 0, "paddingOuter": 0}, "axis": {"labelAngle": 0, "labelFontStyle": "italic", "labelFontSize": 11, "labelPadding": 3}}
        },
        "layer": [
         {"transform": [{"filter": "datum.ab == 'POLIIS5'"}], "mark": {"type": "bar", "width": 30, "xOffset": -21},
          "encoding": {
           "y": {"field": "v", "type": "quantitative", "title": "%Input", "scale": {"domain": [0, 0.15]}, "axis": {"values": [0, 0.05, 0.1, 0.15], "format": ".2f", "titlePadding": 0}},
           "color": {"field": "ab", "type": "nominal", "scale": {"domain": ["POLIIS5", "IgG"], "range": ["black", "#9b9b9b"]}, "legend": {"title": null, "offset": -7, "symbolType": "M-0.75,-0.65H0.75A0.25,0.25 0 0 1 1,-0.4V0.4A0.25,0.25 0 0 1 0.75,0.65H-0.75A0.25,0.25 0 0 1 -1,0.4V-0.4A0.25,0.25 0 0 1 -0.75,-0.65Z", "symbolSize": 324, "labelFontSize": 13, "rowPadding": 5, "labelOffset": 7, "symbolStrokeWidth": 0}}
          }},
         {"transform": [{"filter": "datum.ab == 'IgG'"}], "mark": {"type": "bar", "width": 30, "xOffset": 20},
          "encoding": {
           "y": {"field": "v", "type": "quantitative", "title": "%Input", "axis": {"values": [0, 0.05, 0.1, 0.15], "format": ".2f", "titlePadding": 0}},
           "color": {"field": "ab", "type": "nominal", "scale": {"domain": ["POLIIS5", "IgG"], "range": ["black", "#9b9b9b"]}, "legend": {"title": null, "offset": -7, "symbolType": "M-0.75,-0.65H0.75A0.25,0.25 0 0 1 1,-0.4V0.4A0.25,0.25 0 0 1 0.75,0.65H-0.75A0.25,0.25 0 0 1 -1,0.4V-0.4A0.25,0.25 0 0 1 -0.75,-0.65Z", "symbolSize": 324, "labelFontSize": 13, "rowPadding": 5, "labelOffset": 7, "symbolStrokeWidth": 0}}
          }},
         {"transform": [{"filter": "datum.ab == 'POLIIS5'"}], "mark": {"type": "rule", "strokeWidth": 2.5, "color": "black", "xOffset": -21},
          "encoding": {"y": {"field": "v", "type": "quantitative", "title": "%Input", "axis": {"values": [0, 0.05, 0.1, 0.15], "format": ".2f", "titlePadding": 0}}, "y2": {"field": "hi"}}},
         {"transform": [{"filter": "datum.ab == 'IgG'"}], "mark": {"type": "rule", "strokeWidth": 2.5, "color": "black", "xOffset": 20},
          "encoding": {"y": {"field": "v", "type": "quantitative", "title": "%Input", "axis": {"values": [0, 0.05, 0.1, 0.15], "format": ".2f", "titlePadding": 0}}, "y2": {"field": "hi"}}},
         {"transform": [{"filter": "datum.ab == 'POLIIS5'"}], "mark": {"type": "tick", "size": 13, "thickness": 2.5, "color": "black", "opacity": 1, "xOffset": -21},
          "encoding": {"y": {"field": "hi", "type": "quantitative", "title": "%Input", "axis": {"values": [0, 0.05, 0.1, 0.15], "format": ".2f", "titlePadding": 0}}}},
         {"transform": [{"filter": "datum.ab == 'IgG'"}], "mark": {"type": "tick", "size": 13, "thickness": 2.5, "color": "black", "opacity": 1, "xOffset": 20},
          "encoding": {"y": {"field": "hi", "type": "quantitative", "title": "%Input", "axis": {"values": [0, 0.05, 0.1, 0.15], "format": ".2f", "titlePadding": 0}}}},
         {"data": {"name": "brD"}, "mark": {"type": "line", "strokeWidth": 2, "color": "black", "xOffset": -21},
          "encoding": {"y": {"field": "y", "type": "quantitative", "title": "%Input", "axis": {"values": [0, 0.05, 0.1, 0.15], "format": ".2f", "titlePadding": 0}}, "order": {"field": "o"}}},
         {"data": {"name": "starD"}, "mark": {"type": "text", "dx": -77, "dy": -2, "fontSize": 14, "baseline": "middle", "color": "black"},
          "encoding": {"y": {"datum": 0.15, "axis": {"values": [0, 0.05, 0.1, 0.15], "format": ".2f", "titlePadding": 0}}, "text": {"field": "s"}}}
        ]
       },
       {
        "title": {"text": "Gapdh\u00a0\u00a0\u00a0\u00a0\u00a0\u00a0\u00a0\u00a0\u00a0\u00a0\u00a0\u00a0\u00a0\u00a0\u00a0\u00a0\u00a0\u200b", "subtitle": "\u200b\u00a0\u00a0\u00a0\u00a0\u00a0\u00a0\u00a0\u00a0\u00a0\u00a0\u00a0\u00a0promoter", "fontStyle": "italic", "fontSize": 14, "subtitleFont": "Liberation Sans", "subtitleFontSize": 14, "subtitleFontWeight": "bold", "subtitleFontStyle": "normal", "subtitlePadding": -14, "offset": 3, "anchor": "middle", "frame": "group"},
        "width": 213, "height": 165,
        "data": {"name": "dR"},
        "encoding": {
         "x": {"field": "grp", "type": "nominal", "title": null, "sort": ["Gm15055 +/+", "Gm15055 -/-"], "scale": {"type": "band", "paddingInner": 0, "paddingOuter": 0}, "axis": {"labelAngle": 0, "labelFontStyle": "italic", "labelFontSize": 11, "labelPadding": 3}}
        },
        "layer": [
         {"transform": [{"filter": "datum.ab == 'POLIIS5'"}], "mark": {"type": "bar", "width": 30, "xOffset": -20},
          "encoding": {
           "y": {"field": "v", "type": "quantitative", "title": "%Input", "scale": {"domain": [0, 2]}, "axis": {"values": [0, 0.5, 1, 1.5, 2], "format": ".1f", "titlePadding": 0}},
           "color": {"field": "ab", "type": "nominal", "scale": {"domain": ["POLIIS5", "IgG"], "range": ["black", "#9b9b9b"]}, "legend": {"title": null, "offset": 13, "symbolType": "M-0.75,-0.65H0.75A0.25,0.25 0 0 1 1,-0.4V0.4A0.25,0.25 0 0 1 0.75,0.65H-0.75A0.25,0.25 0 0 1 -1,0.4V-0.4A0.25,0.25 0 0 1 -0.75,-0.65Z", "symbolSize": 324, "labelFontSize": 13, "rowPadding": 5, "labelOffset": 7, "symbolStrokeWidth": 0}}
          }},
         {"transform": [{"filter": "datum.ab == 'IgG'"}], "mark": {"type": "bar", "width": 30, "xOffset": 20},
          "encoding": {
           "y": {"field": "v", "type": "quantitative", "title": "%Input", "axis": {"values": [0, 0.5, 1, 1.5, 2], "format": ".1f", "titlePadding": 0}},
           "color": {"field": "ab", "type": "nominal", "scale": {"domain": ["POLIIS5", "IgG"], "range": ["black", "#9b9b9b"]}, "legend": {"title": null, "offset": 13, "symbolType": "M-0.75,-0.65H0.75A0.25,0.25 0 0 1 1,-0.4V0.4A0.25,0.25 0 0 1 0.75,0.65H-0.75A0.25,0.25 0 0 1 -1,0.4V-0.4A0.25,0.25 0 0 1 -0.75,-0.65Z", "symbolSize": 324, "labelFontSize": 13, "rowPadding": 5, "labelOffset": 7, "symbolStrokeWidth": 0}}
          }},
         {"transform": [{"filter": "datum.ab == 'POLIIS5'"}], "mark": {"type": "rule", "strokeWidth": 2.5, "color": "black", "xOffset": -20},
          "encoding": {"y": {"field": "v", "type": "quantitative", "title": "%Input", "axis": {"values": [0, 0.5, 1, 1.5, 2], "format": ".1f", "titlePadding": 0}}, "y2": {"field": "hi"}}},
         {"transform": [{"filter": "datum.ab == 'IgG'"}], "mark": {"type": "rule", "strokeWidth": 2.5, "color": "black", "xOffset": 20},
          "encoding": {"y": {"field": "v", "type": "quantitative", "title": "%Input", "axis": {"values": [0, 0.5, 1, 1.5, 2], "format": ".1f", "titlePadding": 0}}, "y2": {"field": "hi"}}},
         {"transform": [{"filter": "datum.ab == 'POLIIS5'"}], "mark": {"type": "tick", "size": 13, "thickness": 2.5, "color": "black", "opacity": 1, "xOffset": -20},
          "encoding": {"y": {"field": "hi", "type": "quantitative", "title": "%Input", "axis": {"values": [0, 0.5, 1, 1.5, 2], "format": ".1f", "titlePadding": 0}}}},
         {"transform": [{"filter": "datum.ab == 'IgG'"}], "mark": {"type": "tick", "size": 13, "thickness": 2.5, "color": "black", "opacity": 1, "xOffset": 20},
          "encoding": {"y": {"field": "hi", "type": "quantitative", "title": "%Input", "axis": {"values": [0, 0.5, 1, 1.5, 2], "format": ".1f", "titlePadding": 0}}}}
        ]
       }
      ]
     }
    ]
   },
   {
    "spacing": 0,
    "resolve": {"scale": {"color": "independent", "shape": "independent"}},
    "hconcat": [
     {"data": {"values": []}, "mark": "point", "encoding": {}, "width": 1, "height": 1},
     {
      "title": {"text": "E", "orient": "left", "angle": 0, "anchor": "end", "align": "right", "baseline": "top", "font": "Open Sans", "fontSize": 20, "fontWeight": "bold", "offset": -9},
      "spacing": 42,
      "resolve": {"scale": {"color": "independent", "shape": "independent"}},
      "hconcat": [
       {
        "title": {"text": "Gm15055\u00a0\u00a0\u00a0\u00a0\u00a0\u00a0\u00a0\u00a0\u00a0\u00a0\u00a0\u00a0\u00a0\u00a0\u00a0\u00a0\u00a0\u200b", "subtitle": "\u200b\u00a0\u00a0\u00a0\u00a0\u00a0\u00a0\u00a0\u00a0\u00a0\u00a0\u00a0\u00a0\u00a0\u00a0\u00a0\u00a0\u00a0promoter", "fontStyle": "italic", "fontSize": 14, "subtitleFont": "Liberation Sans", "subtitleFontSize": 14, "subtitleFontWeight": "bold", "subtitleFontStyle": "normal", "subtitlePadding": -14, "offset": 4, "anchor": "middle", "frame": "group"},
        "width": 213, "height": 138,
        "data": {"name": "eL"},
        "encoding": {
         "x": {"field": "grp", "type": "nominal", "title": null, "sort": ["Gm15055 +/+", "Gm15055 -/-"], "scale": {"type": "band", "paddingInner": 0, "paddingOuter": 0}, "axis": {"labelAngle": 0, "labelFontStyle": "italic", "labelFontSize": 11, "labelPadding": 3}}
        },
        "layer": [
         {"transform": [{"filter": "datum.ab == 'H3K4me3'"}], "mark": {"type": "bar", "width": 28, "xOffset": -19},
          "encoding": {
           "y": {"field": "v", "type": "quantitative", "title": "%H3", "scale": {"domain": [0, 400]}, "axis": {"values": [0, 100, 200, 300, 400], "titlePadding": 0}},
           "color": {"field": "ab", "type": "nominal", "scale": {"domain": ["H3K4me3", "IgG"], "range": ["black", "#9b9b9b"]}, "legend": {"title": null, "offset": 2, "symbolType": "M-0.75,-0.65H0.75A0.25,0.25 0 0 1 1,-0.4V0.4A0.25,0.25 0 0 1 0.75,0.65H-0.75A0.25,0.25 0 0 1 -1,0.4V-0.4A0.25,0.25 0 0 1 -0.75,-0.65Z", "symbolSize": 324, "labelFontSize": 13, "rowPadding": 4, "labelOffset": 7, "symbolStrokeWidth": 0}}
          }},
         {"transform": [{"filter": "datum.ab == 'IgG'"}], "mark": {"type": "bar", "width": 28, "xOffset": 16},
          "encoding": {
           "y": {"field": "v", "type": "quantitative", "title": "%H3", "axis": {"values": [0, 100, 200, 300, 400], "titlePadding": 0}},
           "color": {"field": "ab", "type": "nominal", "scale": {"domain": ["H3K4me3", "IgG"], "range": ["black", "#9b9b9b"]}, "legend": {"title": null, "offset": 2, "symbolType": "M-0.75,-0.65H0.75A0.25,0.25 0 0 1 1,-0.4V0.4A0.25,0.25 0 0 1 0.75,0.65H-0.75A0.25,0.25 0 0 1 -1,0.4V-0.4A0.25,0.25 0 0 1 -0.75,-0.65Z", "symbolSize": 324, "labelFontSize": 13, "rowPadding": 4, "labelOffset": 7, "symbolStrokeWidth": 0}}
          }},
         {"transform": [{"filter": "datum.ab == 'H3K4me3'"}], "mark": {"type": "rule", "strokeWidth": 2.5, "color": "black", "xOffset": -19},
          "encoding": {"y": {"field": "v", "type": "quantitative", "title": "%H3", "axis": {"values": [0, 100, 200, 300, 400], "titlePadding": 0}}, "y2": {"field": "hi"}}},
         {"transform": [{"filter": "datum.ab == 'IgG'"}], "mark": {"type": "rule", "strokeWidth": 2.5, "color": "black", "xOffset": 16},
          "encoding": {"y": {"field": "v", "type": "quantitative", "title": "%H3", "axis": {"values": [0, 100, 200, 300, 400], "titlePadding": 0}}, "y2": {"field": "hi"}}},
         {"transform": [{"filter": "datum.ab == 'H3K4me3'"}], "mark": {"type": "tick", "size": 13, "thickness": 2.5, "color": "black", "opacity": 1, "xOffset": -19},
          "encoding": {"y": {"field": "hi", "type": "quantitative", "title": "%H3", "axis": {"values": [0, 100, 200, 300, 400], "titlePadding": 0}}}},
         {"transform": [{"filter": "datum.ab == 'IgG'"}], "mark": {"type": "tick", "size": 13, "thickness": 2.5, "color": "black", "opacity": 1, "xOffset": 16},
          "encoding": {"y": {"field": "hi", "type": "quantitative", "title": "%H3", "axis": {"values": [0, 100, 200, 300, 400], "titlePadding": 0}}}},
         {"data": {"name": "brE"}, "mark": {"type": "line", "strokeWidth": 2, "color": "black", "xOffset": -19},
          "encoding": {"y": {"field": "y", "type": "quantitative", "title": "%H3", "axis": {"values": [0, 100, 200, 300, 400], "titlePadding": 0}}, "order": {"field": "o"}}},
         {"data": {"name": "starE"}, "mark": {"type": "text", "dx": -72, "dy": -2, "fontSize": 14, "baseline": "middle", "color": "black"},
          "encoding": {"y": {"datum": 400, "axis": {"values": [0, 100, 200, 300, 400], "titlePadding": 0}}, "text": {"field": "s"}}}
        ]
       },
       {
        "title": {"text": "Gapdh\u00a0\u00a0\u00a0\u00a0\u00a0\u00a0\u00a0\u00a0\u00a0\u00a0\u00a0\u00a0\u00a0\u00a0\u00a0\u00a0\u00a0\u200b", "subtitle": "\u200b\u00a0\u00a0\u00a0\u00a0\u00a0\u00a0\u00a0\u00a0\u00a0\u00a0\u00a0\u00a0promoter", "fontStyle": "italic", "fontSize": 14, "subtitleFont": "Liberation Sans", "subtitleFontSize": 14, "subtitleFontWeight": "bold", "subtitleFontStyle": "normal", "subtitlePadding": -14, "offset": 6, "anchor": "middle", "frame": "group"},
        "width": 206, "height": 135,
        "data": {"name": "eR"},
        "encoding": {
         "x": {"field": "grp", "type": "nominal", "title": null, "sort": ["Gm15055 +/+", "Gm15055 -/-"], "scale": {"type": "band", "paddingInner": 0, "paddingOuter": 0}, "axis": {"labelAngle": 0, "labelFontStyle": "italic", "labelFontSize": 11, "labelPadding": 3}}
        },
        "layer": [
         {"transform": [{"filter": "datum.ab == 'H3K4me3'"}], "mark": {"type": "bar", "width": 29, "xOffset": -17},
          "encoding": {
           "y": {"field": "v", "type": "quantitative", "title": "%H3", "scale": {"domain": [0, 1500]}, "axis": {"values": [0, 500, 1000, 1500], "format": "d", "titlePadding": 0}},
           "color": {"field": "ab", "type": "nominal", "scale": {"domain": ["H3K4me3", "IgG"], "range": ["black", "#9b9b9b"]}, "legend": {"title": null, "offset": 12, "symbolType": "M-0.75,-0.65H0.75A0.25,0.25 0 0 1 1,-0.4V0.4A0.25,0.25 0 0 1 0.75,0.65H-0.75A0.25,0.25 0 0 1 -1,0.4V-0.4A0.25,0.25 0 0 1 -0.75,-0.65Z", "symbolSize": 324, "labelFontSize": 13, "rowPadding": 4, "labelOffset": 7, "symbolStrokeWidth": 0}}
          }},
         {"transform": [{"filter": "datum.ab == 'IgG'"}], "mark": {"type": "bar", "width": 29, "xOffset": 17},
          "encoding": {
           "y": {"field": "v", "type": "quantitative", "title": "%H3", "axis": {"values": [0, 500, 1000, 1500], "format": "d", "titlePadding": 0}},
           "color": {"field": "ab", "type": "nominal", "scale": {"domain": ["H3K4me3", "IgG"], "range": ["black", "#9b9b9b"]}, "legend": {"title": null, "offset": 12, "symbolType": "M-0.75,-0.65H0.75A0.25,0.25 0 0 1 1,-0.4V0.4A0.25,0.25 0 0 1 0.75,0.65H-0.75A0.25,0.25 0 0 1 -1,0.4V-0.4A0.25,0.25 0 0 1 -0.75,-0.65Z", "symbolSize": 324, "labelFontSize": 13, "rowPadding": 4, "labelOffset": 7, "symbolStrokeWidth": 0}}
          }},
         {"transform": [{"filter": "datum.ab == 'H3K4me3'"}], "mark": {"type": "rule", "strokeWidth": 2.5, "color": "black", "xOffset": -17},
          "encoding": {"y": {"field": "v", "type": "quantitative", "title": "%H3", "axis": {"values": [0, 500, 1000, 1500], "format": "d", "titlePadding": 0}}, "y2": {"field": "hi"}}},
         {"transform": [{"filter": "datum.ab == 'IgG'"}], "mark": {"type": "rule", "strokeWidth": 2.5, "color": "black", "xOffset": 17},
          "encoding": {"y": {"field": "v", "type": "quantitative", "title": "%H3", "axis": {"values": [0, 500, 1000, 1500], "format": "d", "titlePadding": 0}}, "y2": {"field": "hi"}}},
         {"transform": [{"filter": "datum.ab == 'H3K4me3'"}], "mark": {"type": "tick", "size": 13, "thickness": 2.5, "color": "black", "opacity": 1, "xOffset": -17},
          "encoding": {"y": {"field": "hi", "type": "quantitative", "title": "%H3", "axis": {"values": [0, 500, 1000, 1500], "format": "d", "titlePadding": 0}}}},
         {"transform": [{"filter": "datum.ab == 'IgG'"}], "mark": {"type": "tick", "size": 13, "thickness": 2.5, "color": "black", "opacity": 1, "xOffset": 17},
          "encoding": {"y": {"field": "hi", "type": "quantitative", "title": "%H3", "axis": {"values": [0, 500, 1000, 1500], "format": "d", "titlePadding": 0}}}}
        ]
       }
      ]
     }
    ]
   }
  ]
 }
]
}
